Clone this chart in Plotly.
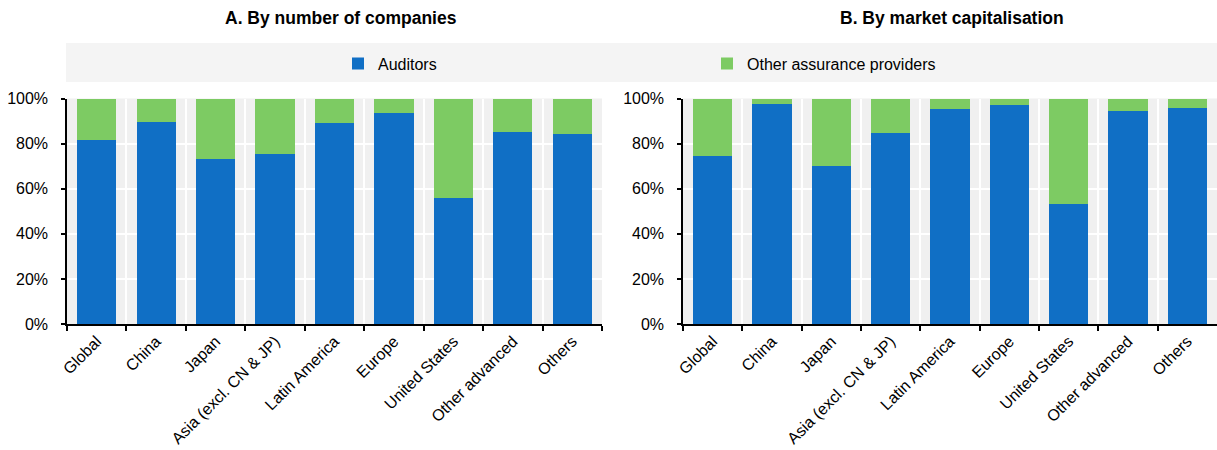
import plotly.graph_objects as go

categories = ["Global", "China", "Japan", "Asia (excl. CN & JP)", "Latin America",
              "Europe", "United States", "Other advanced", "Others"]
auditors_by_count = [81.5, 89.4, 73.0, 75.2, 89.1, 93.5, 56.0, 85.2, 84.3]
auditors_by_mcap = [74.7, 97.5, 70.0, 84.8, 95.2, 97.1, 53.0, 94.6, 95.7]
other_by_count = [round(100 - v, 1) for v in auditors_by_count]
other_by_mcap = [round(100 - v, 1) for v in auditors_by_mcap]
y_ticks = [0, 20, 40, 60, 80, 100]
y_tick_labels = ["0%", "20%", "40%", "60%", "80%", "100%"]
titles = ["A. By number of companies", "B. By market capitalisation"]

BLUE = "#106FC5"
GREEN = "#7DCB63"
FONT = "Liberation Sans, Arial, sans-serif"
W, H = 1217, 450

fig = go.Figure()
fig.add_trace(go.Bar(x=categories, y=auditors_by_count, name="Auditors", marker_color=BLUE,
                     marker_line_width=0, xaxis="x", yaxis="y", legendgroup="a"))
fig.add_trace(go.Bar(x=categories, y=other_by_count, name="Other assurance providers", marker_color=GREEN,
                     marker_line_width=0, xaxis="x", yaxis="y", legendgroup="o"))
fig.add_trace(go.Bar(x=categories, y=auditors_by_mcap, name="Auditors", marker_color=BLUE,
                     marker_line_width=0, xaxis="x2", yaxis="y2", showlegend=False, legendgroup="a"))
fig.add_trace(go.Bar(x=categories, y=other_by_mcap, name="Other assurance providers", marker_color=GREEN,
                     marker_line_width=0, xaxis="x2", yaxis="y2", showlegend=False, legendgroup="o"))

ydom = [1 - 324 / H, 1 - 98.5 / H]
xcommon = dict(type="category", tickson="boundaries", ticks="outside", ticklen=5, tickwidth=1.5,
               tickcolor="black", showline=True, linecolor="black", linewidth=1.5,
               showgrid=True, gridcolor="white", gridwidth=1.5, tickangle=-45,
               tickfont=dict(family=FONT, size=16, color="black"), automargin=False)
ycommon = dict(range=[0, 100], tickvals=y_ticks, ticktext=y_tick_labels, ticks="outside", ticklen=4,
               tickwidth=1.5, tickcolor="black", showline=True, linecolor="black", linewidth=1.5,
               showgrid=True, gridcolor="white", gridwidth=1.5, zeroline=False, ticklabelstandoff=10,
               tickfont=dict(family=FONT, size=16, color="black"), automargin=False)

fig.update_layout(
    width=W, height=H,
    margin=dict(l=0, r=0, t=0, b=0),
    paper_bgcolor="white", plot_bgcolor="#F0F0F0",
    barmode="stack", bargap=0.34,
    xaxis=dict(domain=[67 / W, 602 / W], anchor="y", **xcommon),
    yaxis=dict(domain=ydom, anchor="x", **ycommon),
    xaxis2=dict(domain=[683 / W, 1.0], anchor="y2", **xcommon),
    yaxis2=dict(domain=ydom, anchor="x2", **ycommon),
    showlegend=True,
    legend=dict(orientation="h", x=338 / W, xanchor="left", y=1 - 63.5 / H, yanchor="middle",
                bgcolor="rgba(0,0,0,0)", entrywidth=324, entrywidthmode="pixels",
                font=dict(family=FONT, size=16, color="black"), traceorder="normal"),
    shapes=[dict(type="rect", xref="paper", yref="paper", x0=66 / W, x1=1.0,
                 y0=1 - 82 / H, y1=1 - 43 / H, fillcolor="#F4F4F4", line_width=0, layer="below")],
    annotations=[
        dict(text="<b>" + titles[0] + "</b>", x=341 / W, y=1 - 18 / H, xref="paper", yref="paper",
             showarrow=False, xanchor="center", yanchor="middle",
             font=dict(family=FONT, size=17.5, color="black")),
        dict(text="<b>" + titles[1] + "</b>", x=952 / W, y=1 - 18 / H, xref="paper", yref="paper",
             showarrow=False, xanchor="center", yanchor="middle",
             font=dict(family=FONT, size=17.5, color="black")),
    ],
)

fig.write_html("out.html", config={"displayModeBar": False},
               post_script="document.body.style.margin='0';document.body.style.overflow='hidden';")
